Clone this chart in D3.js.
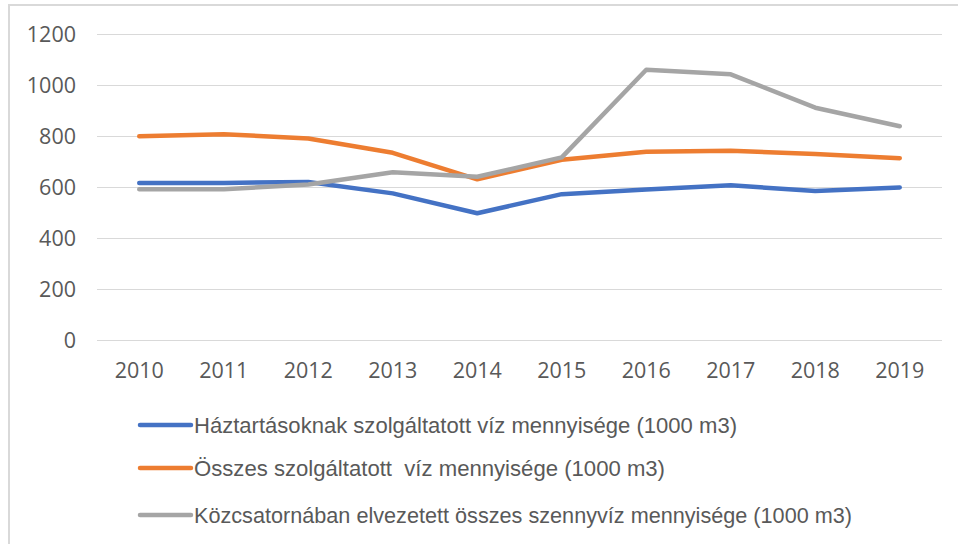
<!DOCTYPE html>
<html>
<head>
<meta charset="utf-8">
<script src="https://cdn.jsdelivr.net/npm/d3@7/dist/d3.min.js"></script>
<style>
  html, body { margin: 0; padding: 0; background: #fff; }
  svg { display: block; }
  .tick-label { font-family: "Open Sans", "Liberation Sans", sans-serif; fill: #595959; }
  .legend-label { font-family: "Liberation Sans", "Open Sans", sans-serif; fill: #595959; white-space: pre; }
</style>
</head>
<body>
<div id="chart"></div>
<script>
const years = [2010, 2011, 2012, 2013, 2014, 2015, 2016, 2017, 2018, 2019];
const households = [616, 616, 620, 575, 497, 572, 590, 607, 584, 598];
const totalSupplied = [799, 807, 790, 734, 630, 707, 738, 742, 729, 713];
const sewage = [591, 591, 610, 658, 640, 716, 1060, 1042, 911, 838];
const yTicks = [0, 200, 400, 600, 800, 1000, 1200];

const seriesNames = [
  "Háztartásoknak szolgáltatott víz mennyisége (1000 m3)",
  "Összes szolgáltatott  víz mennyisége (1000 m3)",
  "Közcsatornában elvezetett összes szennyvíz mennyisége (1000 m3)",
];
const seriesColors = ["#4472C4", "#ED7D31", "#A5A5A5"];
const seriesValues = [households, totalSupplied, sewage];
const legendWidths = [543, 471, 658];

const width = 958;
const height = 544;
const plot = { left: 97, right: 942, top: 34, bottom: 340 };

const svg = d3
  .select("#chart")
  .append("svg")
  .attr("width", width)
  .attr("height", height);

svg
  .append("rect")
  .attr("x", 9)
  .attr("y", 5)
  .attr("width", width + 20)
  .attr("height", height + 20)
  .attr("fill", "#fff")
  .attr("stroke", "#d9d9d9")
  .attr("stroke-width", 2);

const x = d3.scalePoint().domain(years).range([plot.left, plot.right]).padding(0.5);
const y = d3.scaleLinear().domain([0, 1200]).range([plot.bottom, plot.top]);

const grid = svg.append("g");
grid
  .selectAll("line")
  .data(yTicks)
  .join("line")
  .attr("x1", plot.left)
  .attr("x2", plot.right)
  .attr("y1", (d) => Math.round(y(d)) + 0.5)
  .attr("y2", (d) => Math.round(y(d)) + 0.5)
  .attr("stroke", "#d9d9d9")
  .attr("stroke-width", 1);

svg
  .append("g")
  .selectAll("text")
  .data(yTicks)
  .join("text")
  .attr("class", "tick-label")
  .attr("x", 76)
  .attr("y", (d) => y(d))
  .attr("dy", "0.36em")
  .attr("text-anchor", "end")
  .attr("font-size", 21.5)
  .text((d) => d);

svg
  .append("g")
  .selectAll("text")
  .data(years)
  .join("text")
  .attr("class", "tick-label")
  .attr("x", (d) => x(d))
  .attr("y", 378)
  .attr("text-anchor", "middle")
  .attr("font-size", 21.5)
  .text((d) => d);

const line = d3
  .line()
  .x((d, i) => x(years[i]))
  .y((d) => y(d));

svg
  .append("g")
  .selectAll("path")
  .data(seriesValues)
  .join("path")
  .attr("d", (d) => line(d))
  .attr("fill", "none")
  .attr("stroke", (d, i) => seriesColors[i])
  .attr("stroke-width", 4.5)
  .attr("stroke-linejoin", "round")
  .attr("stroke-linecap", "round");

const legendY = [425, 468, 515];
const legend = svg
  .append("g")
  .selectAll("g")
  .data(seriesNames)
  .join("g")
  .attr("transform", (d, i) => `translate(0,${legendY[i]})`);

legend
  .append("line")
  .attr("x1", 140)
  .attr("x2", 191)
  .attr("stroke", (d, i) => seriesColors[i])
  .attr("stroke-width", 4.5)
  .attr("stroke-linecap", "round");

legend
  .append("text")
  .attr("class", "legend-label")
  .attr("x", 194)
  .attr("dy", "0.36em")
  .attr("font-size", 22)
  .attr("textLength", (d, i) => legendWidths[i])
  .attr("lengthAdjust", "spacingAndGlyphs")
  .text((d) => d);
</script>
</body>
</html>
